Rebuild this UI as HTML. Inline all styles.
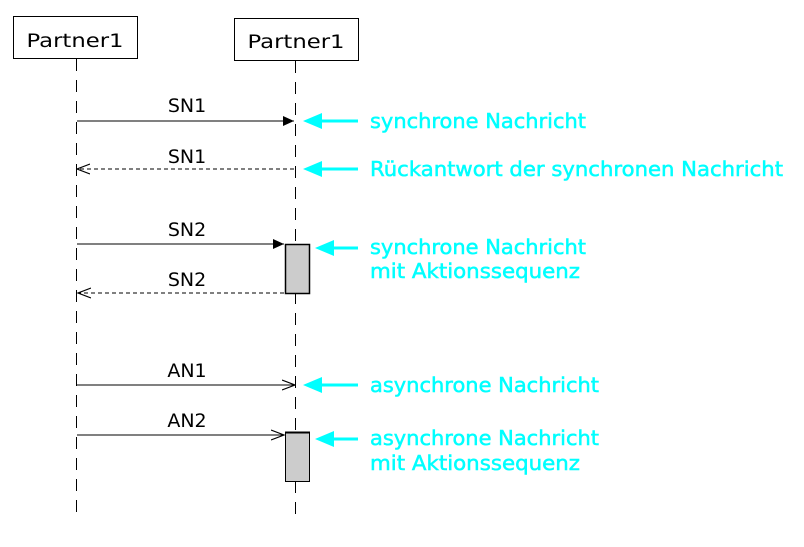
<!DOCTYPE html>
<html><head><meta charset="utf-8"><style>body{margin:0;background:#fff}svg{display:block}</style></head><body>
<svg width="804" height="547" viewBox="0 0 804 547" xmlns="http://www.w3.org/2000/svg" font-family="DejaVu Sans, Liberation Sans, sans-serif">
<defs>
<marker id="fill" markerWidth="12" markerHeight="10" refX="11" refY="5" orient="auto" markerUnits="userSpaceOnUse"><path d="M0,0 L11,5 L0,10 z" fill="#000"/></marker>
<marker id="open" markerWidth="14" markerHeight="12" refX="13" refY="6" orient="auto" markerUnits="userSpaceOnUse"><path d="M0,1 L13,6 L0,11" fill="none" stroke="#000" stroke-width="1.2"/></marker>
</defs>
<rect x="13.5" y="16.5" width="124" height="42" fill="#fff" stroke="#000"/>
<rect x="234.5" y="18.5" width="124" height="42" fill="#fff" stroke="#000"/>
<text x="75" y="47" font-size="19" text-anchor="middle" textLength="97" lengthAdjust="spacingAndGlyphs">Partner1</text>
<text x="296" y="48" font-size="19" text-anchor="middle" textLength="97" lengthAdjust="spacingAndGlyphs">Partner1</text>
<g stroke="#000" stroke-width="1" stroke-dasharray="12,9">
<line x1="76.5" y1="59" x2="76.5" y2="520"/>
<line x1="295.5" y1="61" x2="295.5" y2="520"/>
</g>
<rect x="285.5" y="244.5" width="24" height="49" fill="#ccc" stroke="#000" stroke-width="1.5"/>
<rect x="285.5" y="432.5" width="24" height="49" fill="#ccc" stroke="#000" stroke-width="1"/>
<line x1="285" y1="432.5" x2="310" y2="432.5" stroke="#000" stroke-width="2"/>
<g stroke="#000" stroke-width="1" fill="none">
<line x1="77" y1="121" x2="294" y2="121" marker-end="url(#fill)"/>
<line x1="294" y1="169" x2="77" y2="169" stroke-dasharray="4,3" marker-end="url(#open)"/>
<line x1="77" y1="244" x2="284" y2="244" marker-end="url(#fill)"/>
<line x1="284" y1="293" x2="78" y2="293" stroke-dasharray="4,3" marker-end="url(#open)"/>
<line x1="77" y1="385" x2="295" y2="385" marker-end="url(#open)"/>
<line x1="77" y1="435" x2="284" y2="435" marker-end="url(#open)"/>
</g>
<g font-size="19" text-anchor="middle">
<text x="187" y="112">SN1</text>
<text x="187" y="163">SN1</text>
<text x="187" y="236">SN2</text>
<text x="187" y="286">SN2</text>
<text x="187" y="377">AN1</text>
<text x="187" y="427">AN2</text>
</g>
<g stroke="#00ffff" stroke-width="3">
<line x1="358" y1="121" x2="315" y2="121"/>
<line x1="358" y1="169" x2="315" y2="169"/>
<line x1="358" y1="248" x2="327" y2="248"/>
<line x1="358" y1="385" x2="315" y2="385"/>
<line x1="358" y1="439" x2="327" y2="439"/>
</g>
<g fill="#00ffff">
<path d="M303,121 L322,113 L322,129 z"/>
<path d="M303,169 L322,161 L322,177 z"/>
<path d="M315,248 L334,240 L334,256 z"/>
<path d="M303,385 L322,377 L322,393 z"/>
<path d="M315,439 L334,431 L334,447 z"/>
</g>
<g font-size="20" fill="#00ffff" stroke="#00ffff" stroke-width="0.5">
<text x="370" y="128" textLength="216" lengthAdjust="spacingAndGlyphs">synchrone Nachricht</text>
<text x="370" y="176" textLength="413" lengthAdjust="spacingAndGlyphs">Rückantwort der synchronen Nachricht</text>
<text x="370" y="254" textLength="216" lengthAdjust="spacingAndGlyphs">synchrone Nachricht</text>
<text x="370" y="278" textLength="210" lengthAdjust="spacingAndGlyphs">mit Aktionssequenz</text>
<text x="370" y="392" textLength="229" lengthAdjust="spacingAndGlyphs">asynchrone Nachricht</text>
<text x="370" y="445" textLength="229" lengthAdjust="spacingAndGlyphs">asynchrone Nachricht</text>
<text x="370" y="470" textLength="210" lengthAdjust="spacingAndGlyphs">mit Aktionssequenz</text>
</g>
</svg>
</body></html>
